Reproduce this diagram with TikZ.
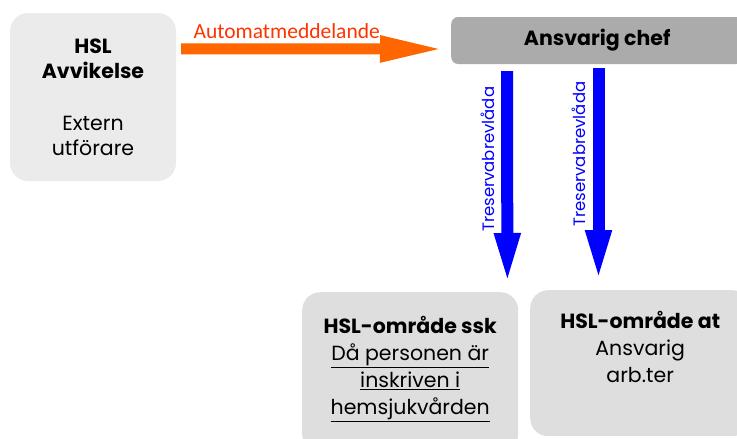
\documentclass[tikz,border=0pt]{standalone}
\usepackage{fontspec}
\setmainfont{Poppins}
\newfontfamily\labelfont{Carlito}
\usetikzlibrary{arrows.meta,positioning,calc}

\definecolor{boxlight}{HTML}{EBEBEB}
\definecolor{boxmid}{HTML}{DEDEDE}
\definecolor{boxdark}{HTML}{ABABAB}
\definecolor{arroworange}{HTML}{FF6600}
\definecolor{labelred}{HTML}{FF3300}

\begin{document}
\begin{tikzpicture}[
  x=1pt, y=-1pt,
  font=\fontsize{20.5}{25}\selectfont,
  box/.style={rounded corners=18pt, inner sep=0pt, align=center},
  boxtext/.style={align=center, inner sep=0pt, anchor=north, font=\fontsize{20.5}{27}\selectfont},
  orangearrow/.style={arroworange, line width=11pt, -{Triangle[length=65pt, width=24pt]}},
  bluearrow/.style={blue, line width=12pt, -{Triangle[length=53pt, width=23pt]}},
  vlabel/.style={rotate=90, anchor=south, inner xsep=0pt, inner ysep=7pt, text=blue, font=\fontsize{16.5}{16.5}\selectfont}
]
\useasboundingbox (0,0) rectangle (737,439);

% Nodes
\node[box, fill=boxlight, minimum width=166pt, minimum height=168pt] (hsl) at (93,97)
  {\textbf{HSL}\\\textbf{Avvikelse}\\[27pt]Extern\\utförare};
\node[box, fill=boxdark, rounded corners=7pt, minimum width=292pt, minimum height=47pt, anchor=west] (chef) at (451,40.5)
  {\textbf{Ansvarig chef}};
\node[box, fill=boxmid, minimum width=216pt, minimum height=160pt, anchor=north west] (ssk) at (302,292) {};
\node[box, fill=boxmid, minimum width=220pt, minimum height=146pt, anchor=north west] (at) at (530,290) {};

% Box texts
\node[boxtext] (ssktext) at ([yshift=-24pt]ssk.north)
  {\textbf{HSL-område ssk}\\\underline{Då personen är}\\\underline{inskriven i}\\\underline{hemsjukvården}};
\node[boxtext] (attext) at ([yshift=-21pt]at.north)
  {\textbf{HSL-område at}\\Ansvarig\\arb.ter};

% Connections
\draw[orangearrow] ($(hsl.north east)+(5,36)$) --
  node[pos=.4, above, inner sep=0pt, yshift=5pt, text=labelred, font=\labelfont\fontsize{21.5}{21.5}\selectfont]{Automatmeddelande}
  ($(chef.west)+(-6,8.5)$);
\draw[bluearrow] ($(chef.south west)+(56,7)$) -- node[vlabel, pos=.41]{Treservabrevlåda} ($(ssk.north east)+(-11,-6)$);
\draw[bluearrow] ($(chef.south west)+(147.5,4)$) -- node[vlabel, pos=.40]{Treservabrevlåda} ($(at.north west)+(68.5,-7)$);

\end{tikzpicture}
\end{document}
